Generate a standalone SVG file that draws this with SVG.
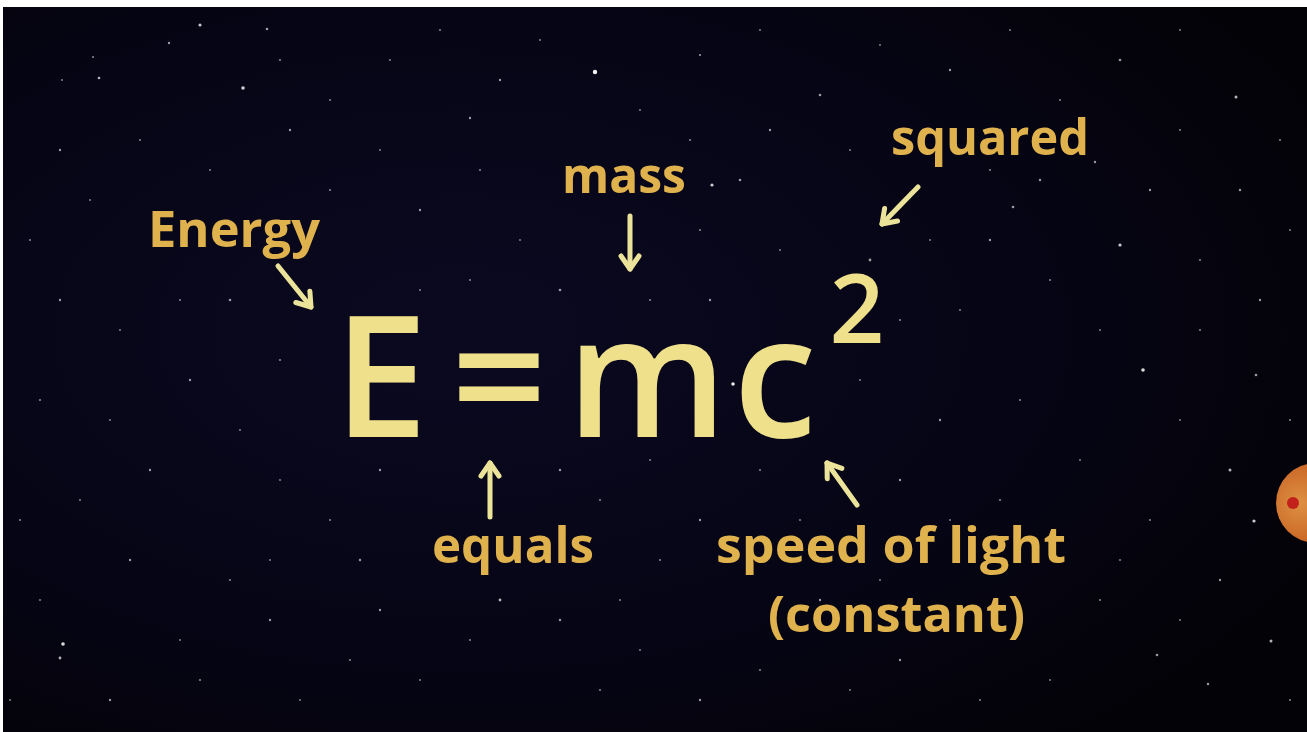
<svg xmlns="http://www.w3.org/2000/svg" width="1307" height="732" viewBox="0 0 1307 732">
<style>
.lbl{font-family:"Open Sans","Liberation Sans",sans-serif;font-weight:700;font-size:50px;fill:#e0b24e}
.eq{font-family:"Open Sans","Liberation Sans",sans-serif;font-weight:600;fill:#efe08c;text-anchor:middle}
.arr{stroke:#ece39b;stroke-width:5;stroke-linecap:round;fill:none}
.stars circle{fill:#ffffff}
</style>
<defs>
<radialGradient id="bg" cx="35%" cy="45%" r="75%">
<stop offset="0" stop-color="#0b0920"/>
<stop offset="0.6" stop-color="#060515"/>
<stop offset="1" stop-color="#030206"/>
</radialGradient>
<radialGradient id="orb" cx="30%" cy="50%" r="70%">
<stop offset="0" stop-color="#f6a04a"/>
<stop offset="1" stop-color="#d85f1c"/>
</radialGradient>
<filter id="soft" x="-50%" y="-50%" width="200%" height="200%">
<feGaussianBlur stdDeviation="0.7"/>
</filter>
<marker id="head" viewBox="0 0 24 24" markerWidth="24" markerHeight="24" refX="19" refY="12" orient="auto" markerUnits="userSpaceOnUse">
<path d="M6,3 L19,12 L6,21" fill="none" stroke="#ece39b" stroke-width="5" stroke-linecap="round" stroke-linejoin="round"/>
</marker>
</defs>
<rect x="0" y="0" width="1307" height="732" fill="#ffffff"/>
<rect x="3" y="7" width="1304" height="725" fill="url(#bg)"/>
<g class="stars" filter="url(#soft)">
<circle cx="200" cy="25" r="1.5" opacity="0.8"/><circle cx="267" cy="29" r="1.3" opacity="0.6"/><circle cx="169" cy="43" r="1.2" opacity="0.6"/><circle cx="99" cy="78" r="1.3" opacity="0.7"/><circle cx="243" cy="88" r="1.8" opacity="0.8"/><circle cx="62" cy="80" r="1" opacity="0.5"/><circle cx="93" cy="57" r="1.1" opacity="0.5"/><circle cx="595" cy="72" r="2.2" opacity="0.95"/><circle cx="540" cy="40" r="1" opacity="0.5"/><circle cx="470" cy="118" r="1.2" opacity="0.6"/><circle cx="390" cy="60" r="1" opacity="0.5"/><circle cx="700" cy="55" r="1.1" opacity="0.6"/><circle cx="760" cy="30" r="1" opacity="0.5"/><circle cx="820" cy="95" r="1.3" opacity="0.6"/><circle cx="880" cy="45" r="1" opacity="0.5"/><circle cx="950" cy="70" r="1.2" opacity="0.6"/><circle cx="1010" cy="30" r="1" opacity="0.5"/><circle cx="1060" cy="100" r="1.1" opacity="0.5"/><circle cx="1120" cy="60" r="1.3" opacity="0.6"/><circle cx="1180" cy="30" r="1" opacity="0.5"/><circle cx="1236" cy="97" r="1.5" opacity="0.7"/><circle cx="1280" cy="140" r="1.1" opacity="0.5"/><circle cx="1150" cy="190" r="1.2" opacity="0.6"/><circle cx="1120" cy="245" r="1.6" opacity="0.8"/><circle cx="1200" cy="260" r="1.1" opacity="0.5"/><circle cx="1260" cy="300" r="1.2" opacity="0.6"/><circle cx="1143" cy="370" r="1.8" opacity="0.85"/><circle cx="1256" cy="375" r="1.3" opacity="0.6"/><circle cx="1180" cy="420" r="1" opacity="0.5"/><circle cx="1100" cy="330" r="1" opacity="0.5"/><circle cx="1050" cy="280" r="1.1" opacity="0.5"/><circle cx="990" cy="240" r="1.2" opacity="0.6"/><circle cx="960" cy="310" r="1" opacity="0.5"/><circle cx="1020" cy="400" r="1.1" opacity="0.5"/><circle cx="940" cy="420" r="1.2" opacity="0.6"/><circle cx="1080" cy="460" r="1" opacity="0.5"/><circle cx="1150" cy="520" r="1.1" opacity="0.5"/><circle cx="1230" cy="470" r="1.5" opacity="0.7"/><circle cx="1254" cy="521" r="1.6" opacity="0.8"/><circle cx="1120" cy="560" r="1" opacity="0.5"/><circle cx="1100" cy="600" r="1.1" opacity="0.5"/><circle cx="1157" cy="655" r="1.3" opacity="0.6"/><circle cx="1271" cy="641" r="1.5" opacity="0.7"/><circle cx="1208" cy="684" r="1.2" opacity="0.6"/><circle cx="1050" cy="680" r="1" opacity="0.5"/><circle cx="980" cy="700" r="1.1" opacity="0.5"/><circle cx="900" cy="660" r="1.2" opacity="0.6"/><circle cx="850" cy="690" r="1" opacity="0.5"/><circle cx="760" cy="670" r="1.1" opacity="0.5"/><circle cx="700" cy="700" r="1.2" opacity="0.6"/><circle cx="640" cy="650" r="1" opacity="0.5"/><circle cx="600" cy="690" r="1.1" opacity="0.5"/><circle cx="560" cy="620" r="1.2" opacity="0.6"/><circle cx="500" cy="600" r="1.4" opacity="0.7"/><circle cx="470" cy="640" r="1.1" opacity="0.5"/><circle cx="420" cy="680" r="1" opacity="0.5"/><circle cx="380" cy="610" r="1.2" opacity="0.6"/><circle cx="350" cy="660" r="1.1" opacity="0.5"/><circle cx="300" cy="700" r="1" opacity="0.5"/><circle cx="270" cy="620" r="1.2" opacity="0.6"/><circle cx="230" cy="580" r="1.1" opacity="0.5"/><circle cx="180" cy="640" r="1" opacity="0.5"/><circle cx="130" cy="560" r="1.2" opacity="0.6"/><circle cx="63" cy="644" r="1.8" opacity="0.85"/><circle cx="60" cy="658" r="1.4" opacity="0.7"/><circle cx="40" cy="600" r="1" opacity="0.5"/><circle cx="20" cy="520" r="1.1" opacity="0.5"/><circle cx="80" cy="500" r="1" opacity="0.5"/><circle cx="150" cy="470" r="1.2" opacity="0.6"/><circle cx="110" cy="420" r="1" opacity="0.5"/><circle cx="40" cy="400" r="1.1" opacity="0.5"/><circle cx="190" cy="380" r="1.2" opacity="0.6"/><circle cx="240" cy="430" r="1" opacity="0.5"/><circle cx="280" cy="360" r="1.1" opacity="0.5"/><circle cx="230" cy="300" r="1.3" opacity="0.6"/><circle cx="180" cy="300" r="1.1" opacity="0.5"/><circle cx="120" cy="330" r="1" opacity="0.5"/><circle cx="60" cy="300" r="1.2" opacity="0.6"/><circle cx="30" cy="240" r="1.1" opacity="0.5"/><circle cx="90" cy="200" r="1" opacity="0.5"/><circle cx="60" cy="150" r="1.2" opacity="0.6"/><circle cx="140" cy="140" r="1.1" opacity="0.5"/><circle cx="210" cy="170" r="1" opacity="0.5"/><circle cx="290" cy="130" r="1.2" opacity="0.6"/><circle cx="330" cy="190" r="1.1" opacity="0.5"/><circle cx="380" cy="150" r="1" opacity="0.5"/><circle cx="420" cy="210" r="1.2" opacity="0.6"/><circle cx="480" cy="170" r="1.1" opacity="0.5"/><circle cx="520" cy="240" r="1" opacity="0.5"/><circle cx="560" cy="290" r="1.3" opacity="0.6"/><circle cx="470" cy="280" r="1.1" opacity="0.5"/><circle cx="420" cy="290" r="1" opacity="0.5"/><circle cx="700" cy="230" r="1.1" opacity="0.5"/><circle cx="740" cy="180" r="1.3" opacity="0.6"/><circle cx="780" cy="250" r="1" opacity="0.5"/><circle cx="710" cy="300" r="1.2" opacity="0.6"/><circle cx="650" cy="300" r="1.1" opacity="0.5"/><circle cx="733" cy="384" r="1.8" opacity="0.9"/><circle cx="560" cy="470" r="1.2" opacity="0.6"/><circle cx="600" cy="500" r="1.1" opacity="0.5"/><circle cx="650" cy="460" r="1" opacity="0.5"/><circle cx="700" cy="520" r="1.2" opacity="0.6"/><circle cx="760" cy="470" r="1.1" opacity="0.5"/><circle cx="800" cy="520" r="1" opacity="0.5"/><circle cx="900" cy="480" r="1.2" opacity="0.6"/><circle cx="950" cy="520" r="1" opacity="0.5"/><circle cx="1000" cy="500" r="1.1" opacity="0.5"/><circle cx="880" cy="580" r="1" opacity="0.5"/><circle cx="820" cy="600" r="1.2" opacity="0.6"/><circle cx="660" cy="560" r="1.1" opacity="0.5"/><circle cx="620" cy="600" r="1" opacity="0.5"/><circle cx="380" cy="470" r="1.2" opacity="0.6"/><circle cx="330" cy="520" r="1.1" opacity="0.5"/><circle cx="280" cy="480" r="1" opacity="0.5"/><circle cx="360" cy="560" r="1.2" opacity="0.6"/><circle cx="270" cy="560" r="1" opacity="0.5"/><circle cx="870" cy="260" r="1.4" opacity="0.6"/><circle cx="900" cy="320" r="1.1" opacity="0.5"/><circle cx="860" cy="380" r="1" opacity="0.5"/><circle cx="990" cy="170" r="1.1" opacity="0.5"/><circle cx="930" cy="240" r="1" opacity="0.5"/><circle cx="1040" cy="180" r="1.2" opacity="0.6"/><circle cx="690" cy="140" r="1.1" opacity="0.5"/><circle cx="640" cy="110" r="1" opacity="0.5"/><circle cx="500" cy="80" r="1.2" opacity="0.6"/><circle cx="440" cy="30" r="1.1" opacity="0.5"/><circle cx="330" cy="100" r="1" opacity="0.5"/><circle cx="280" cy="60" r="1.1" opacity="0.5"/><circle cx="1000" cy="130" r="1.5" opacity="0.6"/><circle cx="1200" cy="330" r="1.1" opacity="0.5"/><circle cx="1290" cy="230" r="1" opacity="0.5"/><circle cx="1240" cy="190" r="1.2" opacity="0.6"/><circle cx="1290" cy="420" r="1.1" opacity="0.5"/><circle cx="1220" cy="580" r="1.2" opacity="0.6"/><circle cx="1180" cy="620" r="1" opacity="0.5"/><circle cx="1290" cy="700" r="1.1" opacity="0.5"/><circle cx="10" cy="700" r="1" opacity="0.5"/><circle cx="110" cy="700" r="1.2" opacity="0.6"/><circle cx="200" cy="680" r="1.1" opacity="0.5"/><circle cx="770" cy="130" r="1.2" opacity="0.6"/><circle cx="850" cy="150" r="1" opacity="0.5"/><circle cx="1180" cy="130" r="1.1" opacity="0.5"/><circle cx="712" cy="185" r="1.6" opacity="0.8"/><circle cx="1095" cy="162" r="1.2" opacity="0.6"/><circle cx="1013" cy="207" r="1.3" opacity="0.6"/>
</g>
<g id="orb-node">
<circle cx="1316" cy="503" r="40" fill="url(#orb)" opacity="0.9"/>
<circle cx="1293" cy="503" r="6" fill="#c2201a"/>
</g>
<g id="equation">
<text class="eq" x="381" y="437" font-size="168">E</text>
<text class="eq" x="499" y="437" font-size="168">=</text>
<text class="eq" x="647" y="437" font-size="168">m</text>
<text class="eq" x="775" y="437" font-size="168">c</text>
<text class="eq" x="857" y="343" font-size="96">2</text>
</g>
<g id="label-energy"><text class="lbl" x="148" y="247" textLength="172" lengthAdjust="spacingAndGlyphs">Energy</text></g>
<g id="label-mass"><text class="lbl" x="562" y="193" textLength="124" lengthAdjust="spacingAndGlyphs">mass</text></g>
<g id="label-squared"><text class="lbl" x="891" y="155" textLength="198" lengthAdjust="spacingAndGlyphs">squared</text></g>
<g id="label-equals"><text class="lbl" x="432" y="563" textLength="162" lengthAdjust="spacingAndGlyphs">equals</text></g>
<g id="label-speed"><text class="lbl" x="716" y="563" textLength="350" lengthAdjust="spacingAndGlyphs">speed of light</text><text class="lbl" x="768" y="632" textLength="257" lengthAdjust="spacingAndGlyphs">(constant)</text></g>
<g id="connectors">
<line class="arr" x1="278" y1="266" x2="311" y2="307" marker-end="url(#head)"/>
<line class="arr" x1="630" y1="216" x2="630" y2="269" marker-end="url(#head)"/>
<line class="arr" x1="918" y1="187" x2="882" y2="224" marker-end="url(#head)"/>
<line class="arr" x1="490" y1="517" x2="490" y2="463" marker-end="url(#head)"/>
<line class="arr" x1="857" y1="505" x2="827" y2="463" marker-end="url(#head)"/>
</g>
</svg>
